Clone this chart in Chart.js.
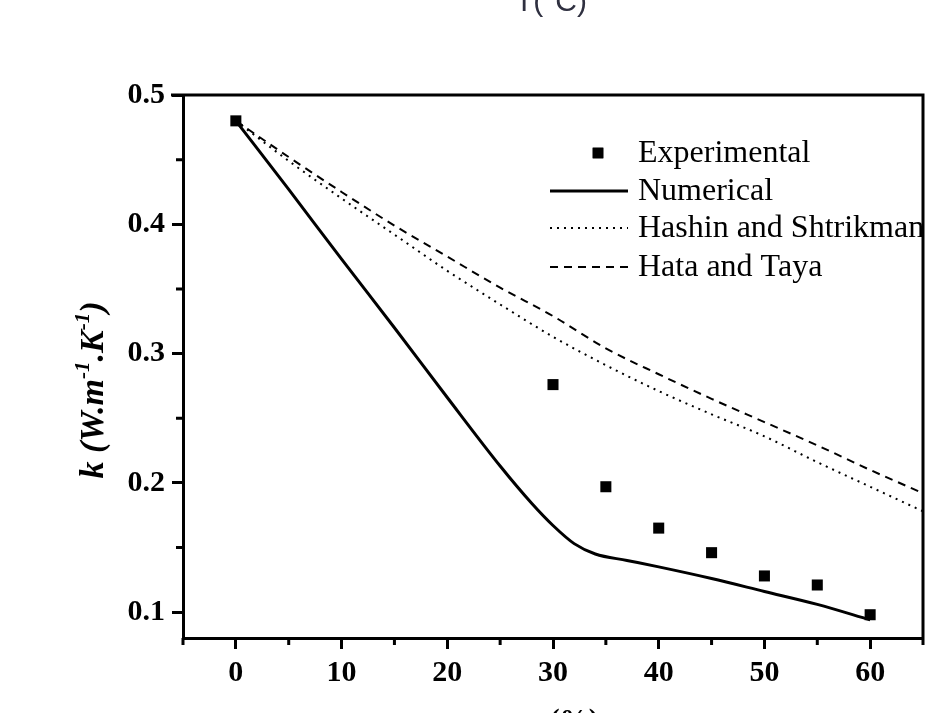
<!DOCTYPE html>
<html>
<head>
<meta charset="utf-8">
<script src="https://cdn.jsdelivr.net/npm/chart.js@4.4.0/dist/chart.umd.min.js"></script>
<style>
    html, body { margin: 0; padding: 0; background: #fff; overflow: hidden; }
    #wrap { position: relative; width: 938px; height: 713px; }
    canvas { display: block; }
    .cut { position: absolute; white-space: nowrap; }
    #topTitle { left: 515px; top: -14px; font: 30px 'Liberation Sans', sans-serif; line-height: 30px; color: #2f3040; }
    #xTitle { left: 550px; top: 705px; font: bold 29px 'Liberation Serif', serif; line-height: 29px; color: #000; }
</style>
</head>
<body>
<div id="wrap">
    <canvas id="chart" width="938" height="713"></canvas>
    <div class="cut" id="topTitle">T(°C)</div>
    <div class="cut" id="xTitle">(%)</div>
</div>
<script>
// Experimental points
const expX = [0, 30, 35, 40, 45, 50, 55, 60];
const expK = [0.480, 0.276, 0.197, 0.165, 0.146, 0.128, 0.121, 0.098];

// Numerical model
const numX = [0, 5, 10, 15, 20, 25, 28, 30, 32, 34, 37, 40, 45, 50, 55, 60];
const numK = [0.480, 0.427, 0.373, 0.320, 0.266, 0.213, 0.184, 0.167, 0.153, 0.145, 0.140, 0.135, 0.126, 0.116, 0.106, 0.094];

// Analytical models
const modelX = [0, 5, 10, 15, 20, 25, 30, 35, 40, 45, 50, 55, 60, 65];
const hashinK = [0.480, 0.449, 0.420, 0.392, 0.364, 0.338, 0.313, 0.291, 0.271, 0.253, 0.236, 0.216, 0.197, 0.178];
const hataK = [0.480, 0.452, 0.425, 0.399, 0.375, 0.351, 0.329, 0.304, 0.284, 0.265, 0.247, 0.229, 0.210, 0.192];

// Axis ticks
const xMajorTicks = [0, 10, 20, 30, 40, 50, 60];
const xMinorTicks = [-5, 5, 15, 25, 35, 45, 55, 65];
const yMajorTicks = [0.1, 0.2, 0.3, 0.4, 0.5];
const yMinorTicks = [0.15, 0.25, 0.35, 0.45];

const toPoints = (xs, ys) => xs.map((x, i) => ({ x, y: ys[i] }));

const FRAME_W = 3;
const SERIF = "'Liberation Serif', 'Times New Roman', serif";

// top + right border of the plot box
const framePlugin = {
    id: 'frame',
    afterDraw(chart) {
        const { ctx, chartArea: a } = chart;
        ctx.save();
        ctx.strokeStyle = '#000';
        ctx.lineWidth = FRAME_W;
        ctx.beginPath();
        ctx.moveTo(a.left - 12, a.top);
        ctx.lineTo(a.right, a.top);
        ctx.lineTo(a.right, a.bottom);
        ctx.stroke();
        ctx.restore();
    },
};

// short ticks between the labelled ones
const minorTickPlugin = {
    id: 'minorTicks',
    afterDraw(chart) {
        const { ctx, chartArea: a, scales } = chart;
        ctx.save();
        ctx.strokeStyle = '#000';
        ctx.lineWidth = 3;
        ctx.beginPath();
        xMinorTicks.forEach((v) => {
            const px = scales.x.getPixelForValue(v);
            ctx.moveTo(px, a.bottom);
            ctx.lineTo(px, a.bottom + 7);
        });
        yMinorTicks.forEach((v) => {
            const py = scales.y.getPixelForValue(v);
            ctx.moveTo(a.left, py);
            ctx.lineTo(a.left - 7, py);
        });
        ctx.stroke();
        ctx.restore();
    },
};

// rotated y title with superscripts
const yTitlePlugin = {
    id: 'yTitle',
    afterDraw(chart) {
        const { ctx } = chart;
        const big = 'bold italic 34px ' + SERIF;
        const small = 'bold italic 21px ' + SERIF;
        const parts = [
            ['k (W.m', big, 0],
            ['-1', small, -14],
            ['.K', big, 0],
            ['-1', small, -14],
            [')', big, 0],
        ];
        let total = 0;
        parts.forEach(([t, f]) => { ctx.font = f; total += ctx.measureText(t).width; });
        ctx.save();
        ctx.translate(103, 390);
        ctx.rotate(-Math.PI / 2);
        ctx.fillStyle = '#000';
        ctx.textBaseline = 'alphabetic';
        let x = -total / 2;
        parts.forEach(([t, f, dy]) => {
            ctx.font = f;
            ctx.fillText(t, x, dy);
            x += ctx.measureText(t).width;
        });
        ctx.restore();
    },
};

// legend inside the plot, top right
const legendPlugin = {
    id: 'insideLegend',
    afterDraw(chart) {
        const { ctx, chartArea: a } = chart;
        const rows = [58, 96, 133, 172];
        ctx.save();
        ctx.font = '32px ' + SERIF;
        ctx.textBaseline = 'middle';
        ctx.fillStyle = '#000';
        chart.data.datasets.forEach((ds, i) => {
            const y = a.top + rows[i];
            if (ds.showLine) {
                ctx.save();
                ctx.strokeStyle = ds.borderColor;
                ctx.lineWidth = ds.borderWidth;
                ctx.setLineDash(ds.borderDash || []);
                ctx.beginPath();
                ctx.moveTo(a.left + 367, y);
                ctx.lineTo(a.left + 445, y);
                ctx.stroke();
                ctx.restore();
            } else {
                Chart.helpers.drawPoint(ctx, { pointStyle: 'rect', radius: 7.5, borderWidth: 0 }, a.left + 415, y);
                ctx.fill();
            }
            ctx.fillText(ds.label, a.left + 455, y + 1);
        });
        ctx.restore();
    },
};

const ctx = document.getElementById('chart').getContext('2d');
new Chart(ctx, {
    type: 'scatter',
    data: {
        datasets: [
            {
                label: 'Experimental',
                data: toPoints(expX, expK),
                showLine: false,
                pointStyle: 'rect',
                pointRadius: 7.8,
                backgroundColor: '#000',
                borderColor: '#000',
                borderWidth: 0,
            },
            {
                label: 'Numerical',
                data: toPoints(numX, numK),
                showLine: true,
                pointRadius: 0,
                borderColor: '#000',
                borderWidth: 3,
                cubicInterpolationMode: 'monotone',
            },
            {
                label: 'Hashin and Shtrikman',
                data: toPoints(modelX, hashinK),
                showLine: true,
                pointRadius: 0,
                borderColor: '#000',
                borderWidth: 2,
                borderDash: [2, 5],
                cubicInterpolationMode: 'monotone',
            },
            {
                label: 'Hata and Taya',
                data: toPoints(modelX, hataK),
                showLine: true,
                pointRadius: 0,
                borderColor: '#000',
                borderWidth: 2,
                borderDash: [8, 6],
                cubicInterpolationMode: 'monotone',
            },
        ],
    },
    options: {
        responsive: false,
        animation: false,
        devicePixelRatio: 1,
        layout: { padding: { left: 0, top: 95, right: 15, bottom: 0 } },
        plugins: { legend: { display: false }, tooltip: { enabled: false } },
        scales: {
            x: {
                type: 'linear',
                min: -5, max: 65,
                afterBuildTicks: (s) => { s.ticks = xMajorTicks.map((value) => ({ value })); },
                afterFit: (s) => { s.height = 75; },
                border: { display: true, width: FRAME_W, color: '#000' },
                grid: { drawOnChartArea: false, drawTicks: true, tickLength: 11, tickWidth: 3, tickColor: '#000' },
                ticks: {
                    color: '#000',
                    padding: 6,
                    font: { family: SERIF, size: 30, weight: 'bold' },
                    callback: (v) => String(v),
                },
            },
            y: {
                type: 'linear',
                min: 0.08, max: 0.5,
                afterBuildTicks: (s) => { s.ticks = yMajorTicks.map((value) => ({ value })); },
                afterFit: (s) => { s.width = 183; },
                border: { display: true, width: FRAME_W, color: '#000' },
                grid: { drawOnChartArea: false, drawTicks: true, tickLength: 11, tickWidth: 3, tickColor: '#000' },
                ticks: {
                    color: '#000',
                    padding: 7,
                    font: { family: SERIF, size: 30, weight: 'bold' },
                    callback: (v) => v.toFixed(1),
                },
            },
        },
    },
    plugins: [framePlugin, minorTickPlugin, yTitlePlugin, legendPlugin],
});
</script>
</body>
</html>
